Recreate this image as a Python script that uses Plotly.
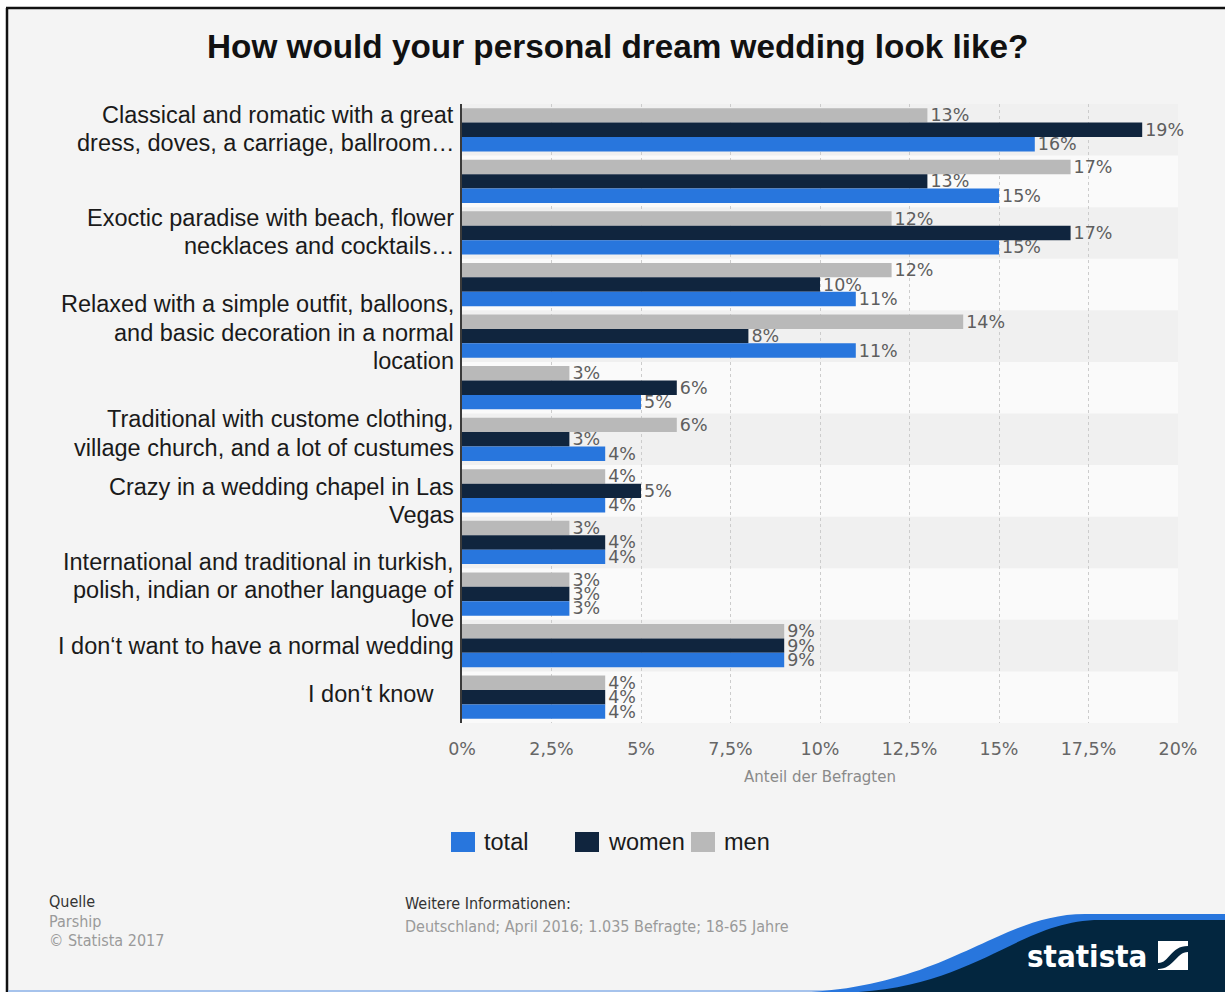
import plotly.graph_objects as go

# ---- data -------------------------------------------------------------
CATEGORIES = [
    "Classical and romatic with a great<br>dress, doves, a carriage, ballroom…",
    "",
    "Exoctic paradise with beach, flower<br>necklaces and cocktails…",
    "",
    "Relaxed with a simple outfit, balloons,<br>and basic decoration in a normal<br>location",
    "",
    "Traditional with custome clothing,<br>village church, and a lot of custumes",
    "Crazy in a wedding chapel in Las<br>Vegas",
    "",
    "International and traditional in turkish,<br>polish, indian or another language of<br>love",
    "I don‘t want to have a normal wedding",
    "I don‘t know",
]
MEN = [13, 17, 12, 12, 14, 3, 6, 4, 3, 3, 9, 4]
WOMEN = [19, 13, 17, 10, 8, 6, 3, 5, 4, 3, 9, 4]
TOTAL = [16, 15, 15, 11, 11, 5, 4, 4, 4, 3, 9, 4]
SERIES = ["total", "women", "men"]
X_TICKS = [0, 2.5, 5, 7.5, 10, 12.5, 15, 17.5, 20]
X_TICK_LABELS = ["0%", "2,5%", "5%", "7,5%", "10%", "12,5%", "15%", "17,5%", "20%"]

TITLE = "How would your personal dream wedding look like?"
AXIS_TITLE = "Anteil der Befragten"
SOURCE_LINES = ["Quelle", "Parship", "© Statista 2017"]
INFO_LINES = ["Weitere Informationen:", "Deutschland; April 2016; 1.035 Befragte; 18-65 Jahre"]

# ---- styling ----------------------------------------------------------
COLORS = {"total": "#2876dd", "women": "#10253e", "men": "#b9b9b9"}
PAGE_BG = "#f4f4f4"
W, H = 1225, 992
ML, MR, MT, MB = 462, 47, 104, 269
PW, PH = W - ML - MR, H - MT - MB

# per-label vertical nudge (px) and right edge (px) of the category texts
LABEL_NUDGE = [1, 0, 1, 0, 3.5, 0, 6, -10, 0, 4, 0, 3]
LABEL_RIGHT = [456] * 11 + [436]
LINE_STEP = 28.5


def px(x):
    return (x - ML) / PW


def py(y):
    return (H - MB - y) / PH


def pt(x, y):
    return f"{px(x):.5f},{py(y):.5f}"


fig = go.Figure()

# traces drawn top-to-bottom inside each group: men, women, total
values = {"men": MEN, "women": WOMEN, "total": TOTAL}
positions = list(range(len(CATEGORIES)))
for name in ["men", "women", "total"]:
    vals = values[name]
    fig.add_trace(go.Bar(
        y=positions, x=vals, orientation="h", name=name,
        marker=dict(color=COLORS[name], line=dict(width=0)),
        text=[f"{v}%" for v in vals], textposition="outside", cliponaxis=False,
        constraintext="none",
        textfont=dict(family="DejaVu Sans", size=17.5, color="#5e5e5e"),
        hoverinfo="skip", showlegend=False,
    ))

shapes = []
# alternating row bands
for i in positions:
    if i % 2 == 0:
        shapes.append(dict(type="rect", xref="paper", yref="y", x0=0, x1=1,
                           y0=i - 0.5, y1=i + 0.5, fillcolor="#f0f0f0",
                           line=dict(width=0), layer="below"))

# outer frame: white strip on top/left and a black border line
shapes += [
    dict(type="rect", xref="paper", yref="paper", x0=px(0), x1=px(W), y0=py(7), y1=py(0),
         fillcolor="white", line=dict(width=0)),
    dict(type="rect", xref="paper", yref="paper", x0=px(0), x1=px(6), y0=py(H), y1=py(0),
         fillcolor="white", line=dict(width=0)),
    dict(type="line", xref="paper", yref="paper", x0=px(6), x1=px(W), y0=py(8), y1=py(8),
         line=dict(color="#111111", width=2.5)),
    dict(type="line", xref="paper", yref="paper", x0=px(7), x1=px(7), y0=py(8), y1=py(H),
         line=dict(color="#111111", width=2.5)),
    dict(type="line", xref="paper", yref="paper", x0=px(8), x1=px(W), y0=py(991), y1=py(991),
         line=dict(color="#8db3ea", width=1.5)),
]

# statista wave in the lower right corner
blue_wave = (f"M{pt(780, 993)} C{pt(945, 993)} {pt(995, 914)} {pt(1085, 914)} "
             f"L{pt(W, 914)} L{pt(W, 993)} Z")
navy_wave = (f"M{pt(830, 993)} C{pt(975, 993)} {pt(1015, 920)} {pt(1100, 920)} "
             f"L{pt(W, 920)} L{pt(W, 993)} Z")
shapes += [
    dict(type="path", xref="paper", yref="paper", path=blue_wave,
         fillcolor="#2876dd", line=dict(width=0)),
    dict(type="path", xref="paper", yref="paper", path=navy_wave,
         fillcolor="#03263f", line=dict(width=0)),
    dict(type="rect", xref="paper", yref="paper", x0=px(1158), x1=px(1188),
         y0=py(970), y1=py(941), fillcolor="white", line=dict(width=0)),
    dict(type="path", xref="paper", yref="paper",
         path=(f"M{pt(1158, 963)} C{pt(1170, 963)} {pt(1170, 946)} {pt(1188, 946)} "
               f"L{pt(1188, 952)} C{pt(1176, 952)} {pt(1174, 969)} {pt(1158, 969)} Z"),
         fillcolor="#03263f", line=dict(width=0)),
]

annotations = []

# title
annotations.append(dict(text=f"<b>{TITLE}</b>", xref="paper", yref="paper",
                        x=px(617), y=py(47), xanchor="center", yanchor="middle",
                        showarrow=False,
                        font=dict(family="Liberation Sans", size=33.3, color="#111111")))

# category labels, one annotation per line
for i, label in enumerate(CATEGORIES):
    if not label:
        continue
    lines = label.split("<br>")
    n = len(lines)
    for k, line in enumerate(lines):
        shift = LABEL_NUDGE[i] + ((n - 1) / 2 - k) * LINE_STEP
        annotations.append(dict(text=line, xref="paper", yref="y", x=px(LABEL_RIGHT[i]),
                                y=i, yshift=shift, xanchor="right", yanchor="middle",
                                showarrow=False,
                                font=dict(family="Liberation Sans", size=23.5,
                                          color="#1a1a1a")))

# legend (total, women, men)
LEGEND_X = [451, 575, 691]
for name, x0 in zip(SERIES, LEGEND_X):
    shapes.append(dict(type="rect", xref="paper", yref="paper", x0=px(x0), x1=px(x0 + 24),
                       y0=py(852), y1=py(832), fillcolor=COLORS[name], line=dict(width=0)))
    annotations.append(dict(text=name, xref="paper", yref="paper", x=px(x0 + 31), y=py(842),
                            xanchor="left", yanchor="middle", showarrow=False,
                            font=dict(family="Liberation Sans", size=23.5, color="#1a1a1a")))

# footer
FOOT_FONT = "DejaVu Sans Condensed, DejaVu Sans"
for k, (line, yy) in enumerate(zip(SOURCE_LINES, [901, 921, 940])):
    annotations.append(dict(text=line, xref="paper", yref="paper", x=px(47), y=py(yy),
                            xanchor="left", yanchor="middle", showarrow=False,
                            font=dict(family=FOOT_FONT, size=16,
                                      color="#333333" if k == 0 else "#9a9a9a")))
for k, (line, yy) in enumerate(zip(INFO_LINES, [903, 926])):
    annotations.append(dict(text=line, xref="paper", yref="paper", x=px(403), y=py(yy),
                            xanchor="left", yanchor="middle", showarrow=False,
                            font=dict(family=FOOT_FONT, size=16,
                                      color="#333333" if k == 0 else "#9a9a9a")))

# brand wordmark
annotations.append(dict(text="<b>statista</b>", xref="paper", yref="paper", x=px(1149),
                        y=py(956), xanchor="right", yanchor="middle", showarrow=False,
                        font=dict(family=FOOT_FONT, size=31, color="white")))

fig.update_layout(
    width=W, height=H,
    margin=dict(l=ML, r=MR, t=MT, b=MB, autoexpand=False),
    paper_bgcolor=PAGE_BG, plot_bgcolor="#fafafa",
    barmode="group", bargap=0.16, bargroupgap=0,
    showlegend=False,
    shapes=shapes, annotations=annotations,
    xaxis=dict(range=[0, 20], tickvals=X_TICKS, ticktext=X_TICK_LABELS,
               showgrid=True, gridcolor="#cccccc", griddash="dot", gridwidth=1,
               zeroline=False, showline=False, ticks="", ticklabelstandoff=13,
               tickfont=dict(family="DejaVu Sans", size=17.5, color="#666666"),
               title=dict(text=AXIS_TITLE, standoff=13,
                          font=dict(family="DejaVu Sans", size=15, color="#8a8a8a")),
               fixedrange=True),
    yaxis=dict(range=[len(CATEGORIES) - 0.5, -0.5], showticklabels=False, ticks="",
               showgrid=False, zeroline=False, showline=True, linecolor="#3a3a3a",
               linewidth=2, fixedrange=True),
)

fig.write_html("out.html", config={"displayModeBar": False})
